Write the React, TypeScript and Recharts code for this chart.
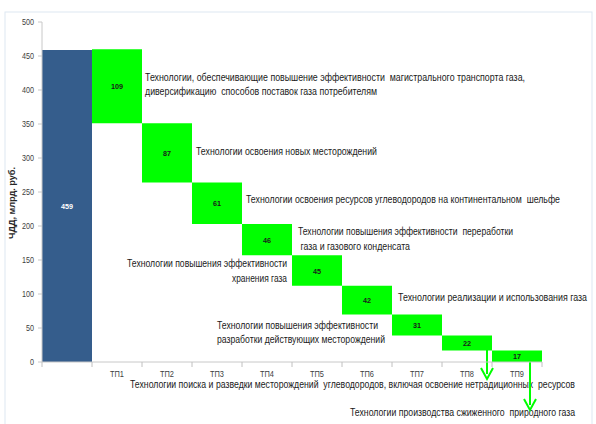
import React from "react";
import {
  ComposedChart,
  Bar,
  XAxis,
  YAxis,
  Cell,
  LabelList,
  Customized,
} from "recharts";

const categories = ["", "ТП1", "ТП2", "ТП3", "ТП4", "ТП5", "ТП6", "ТП7", "ТП8", "ТП9"];
const totalValue = 459;
const stepValues = [109, 87, 61, 46, 45, 42, 31, 22, 17];
const yTicks = [0, 50, 100, 150, 200, 250, 300, 350, 400, 450, 500];

const noteTexts = [
  "Технологии, обеспечивающие повышение эффективности  магистрального транспорта газа,",
  "диверсификацию  способов поставок газа потребителям",
  "Технологии освоения новых месторождений",
  "Технологии освоения ресурсов углеводородов на континентальном  шельфе",
  "Технологии повышения эффективности  переработки",
  " газа и газового конденсата",
  "Технологии повышения эффективности",
  "хранения газа",
  "Технологии реализации и использования газа",
  "Технологии повышения эффективности",
  "разработки действующих месторождений",
  "Технологии поиска и разведки месторождений  углеводородов, включая освоение нетрадиционных  ресурсов",
  "Технологии производства сжиженного  природного газа",
];

const data = categories.map((name, i) => {
  if (i === 0) return { name, base: 0, value: totalValue };
  const base = stepValues.slice(i).reduce((a, b) => a + b, 0);
  return { name, base, value: stepValues[i - 1] };
});

const FONT = "'Liberation Sans', Arial, sans-serif";
const GREEN = "#00ff00";
const BLUE = "#355d8c";

const CategoryTick = (props: any) => {
  const { x, y, payload, index } = props;
  const half = 25;
  return (
    <g>
      <line x1={x - half} y1={y - 8} x2={x - half} y2={y - 3} stroke="#c0c0c0" />
      {index === categories.length - 1 && (
        <line x1={x + half} y1={y - 8} x2={x + half} y2={y - 3} stroke="#c0c0c0" />
      )}
      <text
        x={x}
        y={y + 7}
        textAnchor="middle"
        fontSize={9}
        fill="#404040"
        fontFamily={FONT}
        textLength={payload.value ? 14 : undefined}
        lengthAdjust="spacingAndGlyphs"
      >
        {payload.value}
      </text>
    </g>
  );
};

const YTick = (props: any) => {
  const { x, y, payload } = props;
  const s = String(payload.value);
  return (
    <text
      x={x - 2}
      y={y + 3}
      textAnchor="end"
      fontSize={9}
      fill="#404040"
      fontFamily={FONT}
      textLength={s.length * 4}
      lengthAdjust="spacingAndGlyphs"
    >
      {s}
    </text>
  );
};

const Notes = () => {
  const t = (i: number, x: number, y: number, w: number, anchor: "start" | "end" = "start") => (
    <text
      key={i}
      x={anchor === "end" ? x - w : x}
      y={y}
      fontSize={11.5}
      fill="#1a1a1a"
      fontFamily={FONT}
      textLength={w}
      lengthAdjust="spacingAndGlyphs"
      style={{ whiteSpace: "pre" }}
    >
      {noteTexts[i]}
    </text>
  );
  return (
    <g>
      <rect x={5} y={12} width={587} height={420} fill="none" stroke="#dde7f2" />
      {t(0, 145, 81, 380)}
      {t(1, 145, 95, 232)}
      {t(2, 196, 155, 181)}
      {t(3, 246, 203, 314)}
      {t(4, 298, 235, 215)}
      {t(5, 298, 250, 112)}
      {t(6, 287, 267, 160, "end")}
      {t(7, 287, 282, 55, "end")}
      {t(8, 398, 301, 189)}
      {t(9, 217, 329, 161)}
      {t(10, 217, 343, 168)}
      {t(11, 130, 388, 445)}
      {t(12, 350, 416, 225)}
      <line x1={487} y1={350} x2={487} y2={374} stroke={GREEN} strokeWidth={2} />
      <path d="M481,368 L487,379 L493,368" fill="none" stroke={GREEN} strokeWidth={2} />
      <line x1={530} y1={362} x2={530} y2={405} stroke={GREEN} strokeWidth={2} />
      <path d="M524,399 L530,410 L536,399" fill="none" stroke={GREEN} strokeWidth={2} />
      <text
        x={0}
        y={0}
        transform="translate(15,203) rotate(-90)"
        textAnchor="middle"
        fontSize={9}
        fontWeight="bold"
        fill="#262626"
        fontFamily={FONT}
        textLength={72}
        lengthAdjust="spacingAndGlyphs"
      >
        ЧДД, млрд. руб.
      </text>
    </g>
  );
};

export default function App() {
  return (
    <div style={{ position: "fixed", left: 0, top: 0, width: 596, height: 424, background: "#fff" }}>
      <ComposedChart
        width={596}
        height={424}
        data={data}
        margin={{ top: 22, right: 54, left: 12, bottom: 42 }}
        barCategoryGap={0}
      >
        <XAxis
          dataKey="name"
          height={20}
          axisLine={{ stroke: "#c8c8c8" }}
          tickLine={false}
          tick={<CategoryTick />}
          interval={0}
        />
        <YAxis
          width={30}
          domain={[0, 500]}
          ticks={yTicks}
          axisLine={{ stroke: "#c8c8c8" }}
          tickLine={{ stroke: "#c8c8c8" }}
          tickSize={4}
          tick={<YTick />}
        />
        <Bar dataKey="base" stackId="w" fill="transparent" isAnimationActive={false} />
        <Bar dataKey="value" stackId="w" isAnimationActive={false}>
          {data.map((d, i) => (
            <Cell key={d.name + i} fill={i === 0 ? BLUE : GREEN} />
          ))}
          <LabelList
            dataKey="value"
            position="center"
            content={(p: any) => (
              <text
                x={p.x + p.width / 2}
                y={p.y + p.height / 2 + 3}
                textAnchor="middle"
                fontSize={8}
                fontWeight="bold"
                fill={p.index === 0 ? "#ffffff" : "#1a1a1a"}
                fontFamily={FONT}
                textLength={String(p.value).length * 4}
                lengthAdjust="spacingAndGlyphs"
              >
                {p.value}
              </text>
            )}
          />
        </Bar>
        <Customized component={<Notes />} />
      </ComposedChart>
    </div>
  );
}
